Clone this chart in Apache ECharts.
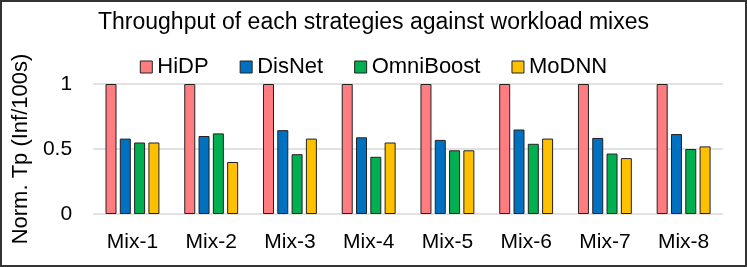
<!DOCTYPE html>
<html><head><meta charset="utf-8">
<script src="https://cdn.jsdelivr.net/npm/echarts@6/dist/echarts.min.js"></script>
<style>
html,body{margin:0;padding:0;background:#fff;}
#c{width:747px;height:267px;box-sizing:border-box;border:2px solid #333;}
</style></head>
<body><div id="c"></div>
<script>
const categories = ['Mix-1','Mix-2','Mix-3','Mix-4','Mix-5','Mix-6','Mix-7','Mix-8'];
const hidp = [1,1,1,1,1,1,1,1];
const disnet = [0.58,0.60,0.645,0.59,0.57,0.65,0.585,0.615];
const omniboost = [0.55,0.62,0.46,0.44,0.49,0.54,0.465,0.50];
const modnn = [0.55,0.40,0.58,0.55,0.49,0.58,0.43,0.52];
const yTicks = [0, 0.5, 1];

const font = 'Liberation Sans, Arial, Helvetica, sans-serif';
const narrow = 'Liberation Sans Narrow, Liberation Sans, Arial, sans-serif';
const chart = echarts.init(document.getElementById('c'), null, {renderer:'canvas'});
function s(name, data, color){
  return {name, type:'bar', data, barWidth:11, barGap:'30%',
    itemStyle:{color, borderColor:'#222', borderWidth:1}};
}
chart.setOption({
  animation:false,
  title:{text:'Throughput of each strategies against workload mixes', left:'center', top:4,
    textStyle:{fontFamily:font, fontSize:23, fontWeight:'normal', color:'#000'}},
  legend:{left:'center', top:49, itemWidth:12, itemHeight:12, itemGap:31,
    icon:'rect',
    textStyle:{fontFamily:font, fontSize:22, color:'#000'},
    itemStyle:{borderColor:'#222', borderWidth:1}},
  grid:{left:88, right:22, top:82, bottom:51},
  xAxis:{type:'category', data:categories,
    axisLine:{show:false}, axisTick:{show:false},
    axisLabel:{fontFamily:font, fontSize:21, color:'#000', margin:18}},
  yAxis:{type:'value', min:0, max:1, interval:0.5,
    name:'Norm. Tp (Inf/100s)', nameLocation:'middle', nameGap:54, nameRotate:90,
    nameTextStyle:{fontFamily:narrow, fontSize:22, color:'#000'},
    axisLabel:{fontFamily:font, fontSize:21, color:'#000', margin:21,
      formatter: v => (yTicks.includes(v) ? String(v) : '')},
    splitLine:{lineStyle:{color:'#d9d9d9', width:1.5}}},
  series:[s('HiDP',hidp,'#FF7C80'), s('DisNet',disnet,'#0070C0'), s('OmniBoost',omniboost,'#00B050'), s('MoDNN',modnn,'#FFC000')]
});
</script></body></html>
